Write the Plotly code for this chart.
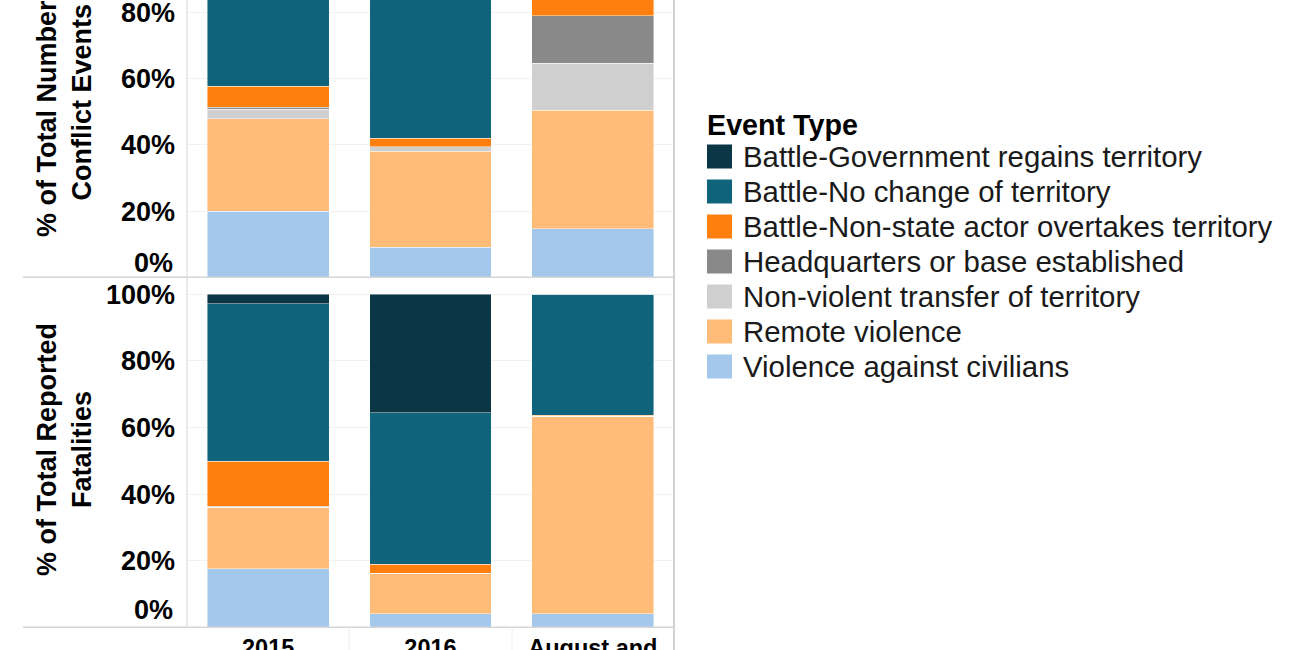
import plotly.graph_objects as go

W, H = 1300, 650

# ---------------- data ----------------
periods = ["2015", "2016", "August and"]

event_types = [
    "Battle-Government regains territory",
    "Battle-No change of territory",
    "Battle-Non-state actor overtakes territory",
    "Headquarters or base established",
    "Non-violent transfer of territory",
    "Remote violence",
    "Violence against civilians",
]
type_colors = ["#0b3646", "#0f647b", "#ff7f0e", "#898989", "#cfcfcf", "#ffbb78", "#a3c8ec"]

# % of total number of conflict events (top panel)
events_gov = [2.0, 6.0, 0.0]
events_nochange = [40.3, 52.0, 14.0]
events_nonstate = [6.4, 2.6, 7.0]
events_hq = [0.5, 0.0, 14.4]
events_nonviolent = [2.9, 1.4, 14.2]
events_remote = [27.9, 28.9, 35.8]
events_civilians = [20.0, 9.1, 14.6]

# % of total reported fatalities (bottom panel)
fat_gov = [2.9, 35.6, 0.0]
fat_nochange = [47.2, 45.5, 36.3]
fat_nonstate = [13.5, 2.7, 0.3]
fat_hq = [0.3, 0.0, 0.0]
fat_nonviolent = [0.0, 0.0, 0.0]
fat_remote = [18.5, 12.1, 59.3]
fat_civilians = [17.6, 4.1, 4.1]

y_ticks = [20, 40, 60, 80, 100]
y_ticktext = ["20%", "40%", "60%", "80%", "100%"]

events_series = [events_gov, events_nochange, events_nonstate, events_hq,
                 events_nonviolent, events_remote, events_civilians]
fat_series = [fat_gov, fat_nochange, fat_nonstate, fat_hq,
              fat_nonviolent, fat_remote, fat_civilians]

# ---------------- helpers ----------------
def px_x(x):
    return x / W

def px_y(y):
    return 1 - y / H

FONT = "Liberation Sans, Arial, sans-serif"

fig = go.Figure()

# stack from bottom (civilians) to top (government regains)
for i in reversed(range(len(event_types))):
    fig.add_trace(go.Bar(
        x=periods, y=events_series[i], name=event_types[i],
        marker=dict(color=type_colors[i], line=dict(color="rgba(255,255,255,0.55)", width=0.8)),
        xaxis="x2", yaxis="y2", showlegend=False,
        hovertemplate="%{x}<br>" + event_types[i] + ": %{y}%<extra></extra>",
    ))
    fig.add_trace(go.Bar(
        x=periods, y=fat_series[i], name=event_types[i],
        marker=dict(color=type_colors[i], line=dict(color="rgba(255,255,255,0.55)", width=0.8)),
        xaxis="x", yaxis="y", showlegend=False,
        hovertemplate="%{x}<br>" + event_types[i] + ": %{y}%<extra></extra>",
    ))

x_dom = [px_x(187), px_x(674)]
bottom_base, bottom_top = 627.3, 280.0
top_base = 277.3
scale_bottom = 3.33
scale_top = 3.3125

tickfont = dict(family=FONT, size=27, color="#000000", weight="bold")

fig.update_layout(
    width=W, height=H,
    margin=dict(l=0, r=0, t=0, b=0, autoexpand=False),
    paper_bgcolor="white", plot_bgcolor="white",
    barmode="stack", bargap=0.25,
    showlegend=False,
    xaxis=dict(domain=x_dom, anchor="y", type="category", showline=False, showgrid=False,
               zeroline=False, ticks="", automargin=False,
               tickfont=dict(family=FONT, size=23.5, color="#000000", weight="bold"),
               ticklabelstandoff=4),
    xaxis2=dict(domain=x_dom, anchor="y2", type="category", showline=False, showgrid=False,
                zeroline=False, ticks="", showticklabels=False, matches="x", automargin=False),
    yaxis=dict(domain=[px_y(bottom_base), px_y(bottom_top)], anchor="x",
               range=[0, (bottom_base - bottom_top) / scale_bottom],
               tickvals=y_ticks, ticktext=y_ticktext, tickfont=tickfont,
               showgrid=True, gridcolor="#f1f1f1", gridwidth=1, automargin=False,
               ticklabeloverflow="allow",
               zeroline=False, showline=False, ticks="", ticklabelstandoff=11),
    yaxis2=dict(domain=[px_y(top_base), 1.0], anchor="x2",
                range=[0, top_base / scale_top],
                tickvals=y_ticks, ticktext=y_ticktext, tickfont=tickfont,
                showgrid=True, gridcolor="#f1f1f1", gridwidth=1, automargin=False,
                ticklabeloverflow="allow",
                zeroline=False, showline=False, ticks="", ticklabelstandoff=11),
)

shapes = []
line_col = "#d6d6d6"
# horizontal pane dividers / baselines
for yy in (top_base, bottom_base):
    shapes.append(dict(type="line", xref="paper", yref="paper",
                       x0=px_x(23), x1=px_x(674), y0=px_y(yy), y1=px_y(yy),
                       line=dict(color=line_col, width=1.5)))
# left axis line
shapes.append(dict(type="line", xref="paper", yref="paper",
                   x0=px_x(187), x1=px_x(187), y0=px_y(0), y1=px_y(bottom_base),
                   line=dict(color="#dddddd", width=1.2)))
# right border
shapes.append(dict(type="line", xref="paper", yref="paper",
                   x0=px_x(674), x1=px_x(674), y0=px_y(0), y1=px_y(650),
                   line=dict(color="#d2d2d2", width=2)))
# header dividers below the axis
for xx in (349, 512):
    shapes.append(dict(type="line", xref="paper", yref="paper",
                       x0=px_x(xx), x1=px_x(xx), y0=px_y(bottom_base), y1=px_y(650),
                       line=dict(color="#eeeeee", width=1)))

annotations = []
# 0% labels (shifted up within pane like the original)
for yc in (262.5, 610.0):
    annotations.append(dict(text="0%", xref="paper", yref="paper",
                            x=px_x(175), y=px_y(yc), xanchor="right", yanchor="middle",
                            showarrow=False, font=tickfont))
# axis titles
annotations.append(dict(text="% of Total Number of<br>Conflict Events", xref="paper", yref="paper",
                        x=px_x(64), y=px_y(102), xanchor="center", yanchor="middle",
                        textangle=-90, showarrow=False,
                        font=dict(family=FONT, size=27, color="#000000", weight="bold")))
annotations.append(dict(text="% of Total Reported<br>Fatalities", xref="paper", yref="paper",
                        x=px_x(64), y=px_y(450), xanchor="center", yanchor="middle",
                        textangle=-90, showarrow=False,
                        font=dict(family=FONT, size=27, color="#000000", weight="bold")))

# legend (custom, Tableau-like)
annotations.append(dict(text="Event Type", xref="paper", yref="paper",
                        x=px_x(705), y=px_y(125), xanchor="left", yanchor="middle",
                        showarrow=False,
                        font=dict(family=FONT, size=28.7, color="#000000", weight="bold")))
row0, row_step = 156.5, 35.0
for i, name in enumerate(event_types):
    yc = row0 + i * row_step
    shapes.append(dict(type="rect", xref="paper", yref="paper",
                       x0=px_x(707), x1=px_x(732), y0=px_y(yc - 12), y1=px_y(yc + 12),
                       fillcolor=type_colors[i], line=dict(width=0)))
    annotations.append(dict(text=name, xref="paper", yref="paper",
                            x=px_x(741), y=px_y(yc), xanchor="left", yanchor="middle",
                            showarrow=False,
                            font=dict(family=FONT, size=29.4, color="#1a1a1a")))

fig.update_layout(shapes=shapes, annotations=annotations)

fig.write_html("out.html", config={"displayModeBar": False},
               post_script="document.body.style.margin='0';document.body.style.overflow='hidden';")
